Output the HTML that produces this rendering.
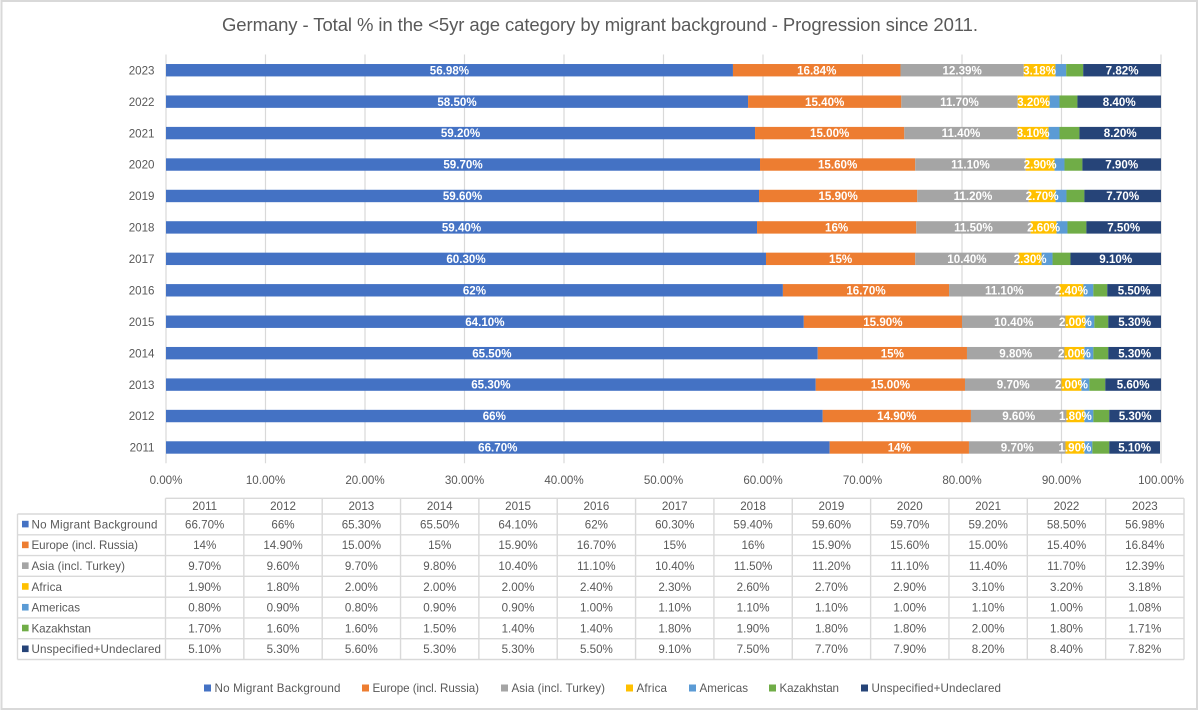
<!DOCTYPE html>
<html lang="en">
<head>
<meta charset="utf-8">
<title>Germany - Total % in the &lt;5yr age category by migrant background</title>
<style>
  html, body { margin: 0; padding: 0; background: #ffffff; }
  body { width: 1200px; height: 710px; overflow: hidden; }
  svg { display: block; font-family: "Liberation Sans", sans-serif; }
  text { fill: #595959; }
</style>
</head>
<body>
<svg id="chart" xmlns="http://www.w3.org/2000/svg" width="1200" height="710" viewBox="0 0 1200 710">
  <rect x="1.5" y="1" width="1195.5" height="708" fill="#ffffff" stroke="#d9d9d9" stroke-width="2"></rect>
  <text x="222" y="31" font-size="18.5" textLength="756" lengthAdjust="spacing">Germany - Total % in the &lt;5yr age category by migrant background - Progression since 2011.</text>
  <g id="grid"></g>
  <g id="bars"></g>
  <g id="labels"></g>
  <g id="yaxis"></g>
  <g id="xaxis"></g>
  <g id="table"></g>
  <g id="legend"></g>
</svg>
<script>
const years = [2011, 2012, 2013, 2014, 2015, 2016, 2017, 2018, 2019, 2020, 2021, 2022, 2023];
const xTicks = [0, 10, 20, 30, 40, 50, 60, 70, 80, 90, 100];

const seriesNames = ['No Migrant Background', 'Europe (incl. Russia)', 'Asia (incl. Turkey)', 'Africa', 'Americas', 'Kazakhstan', 'Unspecified+Undeclared'];
const noMigrant = [66.70, 66, 65.30, 65.50, 64.10, 62, 60.30, 59.40, 59.60, 59.70, 59.20, 58.50, 56.98];
const europe = [14, 14.90, 15.00, 15, 15.90, 16.70, 15, 16, 15.90, 15.60, 15.00, 15.40, 16.84];
const asia = [9.70, 9.60, 9.70, 9.80, 10.40, 11.10, 10.40, 11.50, 11.20, 11.10, 11.40, 11.70, 12.39];
const africa = [1.90, 1.80, 2.00, 2.00, 2.00, 2.40, 2.30, 2.60, 2.70, 2.90, 3.10, 3.20, 3.18];
const americas = [0.80, 0.90, 0.80, 0.90, 0.90, 1.00, 1.10, 1.10, 1.10, 1.00, 1.10, 1.00, 1.08];
const kazakhstan = [1.70, 1.60, 1.60, 1.50, 1.40, 1.40, 1.80, 1.90, 1.80, 1.80, 2.00, 1.80, 1.71];
const unspecified = [5.10, 5.30, 5.60, 5.30, 5.30, 5.50, 9.10, 7.50, 7.70, 7.90, 8.20, 8.40, 7.82];

// Years whose printed value has no decimals in the source workbook
const noMigrantWholeYears = [2012, 2016];
const europeWholeYears = [2011, 2014, 2017, 2018];

const seriesValues = [noMigrant, europe, asia, africa, americas, kazakhstan, unspecified];
const seriesColors = ['#4472C4', '#ED7D31', '#A5A5A5', '#FFC000', '#5B9BD5', '#70AD47', '#264478'];
const labelledSeries = [true, true, true, true, false, false, true];
const seriesKeys = ['no-migrant', 'europe', 'asia', 'africa', 'americas', 'kazakhstan', 'unspecified'];

const NS = 'http://www.w3.org/2000/svg';
const plotLeft = 166, plotRight = 1161, plotTop = 54.5, plotBottom = 463.2;
const tableLeft = 165.5, tableRight = 1184, tableOuterLeft = 17.5;
const headerTop = 498.3, rowsTop = 514, rowsBottom = 659.5;
const bandH = (plotBottom - plotTop) / years.length;
const barH = 12.4;

function xScale(v) { return plotLeft + (plotRight - plotLeft) * Math.min(v, 100) / 100; }
function yBand(i) { return plotBottom - bandH * (i + 0.5); }
function colX(i) { return tableLeft + (tableRight - tableLeft) * i / years.length; }
function rowY(i) { return rowsTop + (rowsBottom - rowsTop) * i / seriesNames.length; }

function make(tag, attrs, parent, txt) {
  const n = document.createElementNS(NS, tag);
  for (const k in attrs) n.setAttribute(k, attrs[k]);
  if (txt !== undefined) n.textContent = txt;
  parent.appendChild(n);
  return n;
}
function printed(s, i) {
  const v = seriesValues[s][i];
  if (s === 0 && noMigrantWholeYears.includes(years[i])) return v + '%';
  if (s === 1 && europeWholeYears.includes(years[i])) return v + '%';
  return v.toFixed(2) + '%';
}

const gGrid = document.getElementById('grid');
const gBars = document.getElementById('bars');
const gLabels = document.getElementById('labels');
const gY = document.getElementById('yaxis');
const gX = document.getElementById('xaxis');
const gTable = document.getElementById('table');
const gLegend = document.getElementById('legend');

xTicks.forEach(function (t) {
  const x = xScale(t);
  const line = make('line', {x1: x, x2: x, y1: plotTop, y2: plotBottom, stroke: '#d9d9d9', 'stroke-width': 1.2}, gGrid);
  
  
  const lab = make('text', {x: x, y: 484, 'font-size': 11.6, 'text-anchor': 'middle'}, gX, t.toFixed(2) + '%');
  
  
});

years.forEach(function (year, i) {
  const cy = yBand(i);
  const yl = make('text', {x: 154.5, y: cy + 4.2, 'font-size': 11.6, 'text-anchor': 'end'}, gY, String(year));
  
  
  let acc = 0;
  seriesValues.forEach(function (vals, s) {
    const x0 = xScale(acc);
    const x1 = xScale(acc + vals[i]);
    const r = make('rect', {x: x0, y: cy - barH / 2, width: Math.max(0, x1 - x0), height: barH, fill: seriesColors[s]}, gBars);
    
    
    if (labelledSeries[s]) {
      const t = make('text', {x: (x0 + x1) / 2, y: cy + 4.1, 'font-size': 11.6, 'font-weight': 'bold', 'text-anchor': 'middle', style: 'fill:#ffffff'}, gLabels, printed(s, i));
      
      
    }
    acc += vals[i];
  });
});

/* table grid */
const tableStroke = {stroke: '#d9d9d9', 'stroke-width': 1.4};
for (let c = 0; c <= years.length; c++) {
  const x = colX(c);
  const v = make('line', Object.assign({x1: x, x2: x, y1: headerTop, y2: rowsBottom}, tableStroke), gTable);
  
  
}
const hTop = make('line', Object.assign({x1: tableLeft, x2: tableRight, y1: headerTop, y2: headerTop}, tableStroke), gTable);


const vLeft = make('line', Object.assign({x1: tableOuterLeft, x2: tableOuterLeft, y1: rowsTop, y2: rowsBottom}, tableStroke), gTable);


for (let r = 0; r <= seriesNames.length; r++) {
  const y = rowY(r);
  const h = make('line', Object.assign({x1: tableOuterLeft, x2: tableRight, y1: y, y2: y}, tableStroke), gTable);
  
  
}
years.forEach(function (year, c) {
  const cx = (colX(c) + colX(c + 1)) / 2;
  const h = make('text', {x: cx, y: 510.2, 'font-size': 11.6, 'text-anchor': 'middle'}, gTable, String(year));
  
  
});
const rowLabelWidths = [126, 106.5, 93.5, 30.5, 48.5, 59.5, 129.5];
seriesNames.forEach(function (name, s) {
  const cy = (rowY(s) + rowY(s + 1)) / 2;
  const sw = make('rect', {x: 22, y: cy - 3.6, width: 6.6, height: 6.6, fill: seriesColors[s]}, gTable);
  
  
  const lab = make('text', {x: 31.5, y: cy + 4, 'font-size': 11.6, textLength: rowLabelWidths[s], lengthAdjust: 'spacing'}, gTable, name);
  
  
  years.forEach(function (year, c) {
    const cx = (colX(c) + colX(c + 1)) / 2;
    const t = make('text', {x: cx, y: cy + 4, 'font-size': 11.6, 'text-anchor': 'middle'}, gTable, printed(s, c));
    
    
  });
});

/* legend */
const legendSwatchX = [204, 362, 501, 626, 689, 769, 861];
seriesNames.forEach(function (name, s) {
  const sw = make('rect', {x: legendSwatchX[s], y: 684.5, width: 7, height: 7, fill: seriesColors[s]}, gLegend);
  
  
  const t = make('text', {x: legendSwatchX[s] + 10.5, y: 692.2, 'font-size': 11.6, textLength: rowLabelWidths[s], lengthAdjust: 'spacing'}, gLegend, name);
  
  
});
</script>
</body>
</html>
